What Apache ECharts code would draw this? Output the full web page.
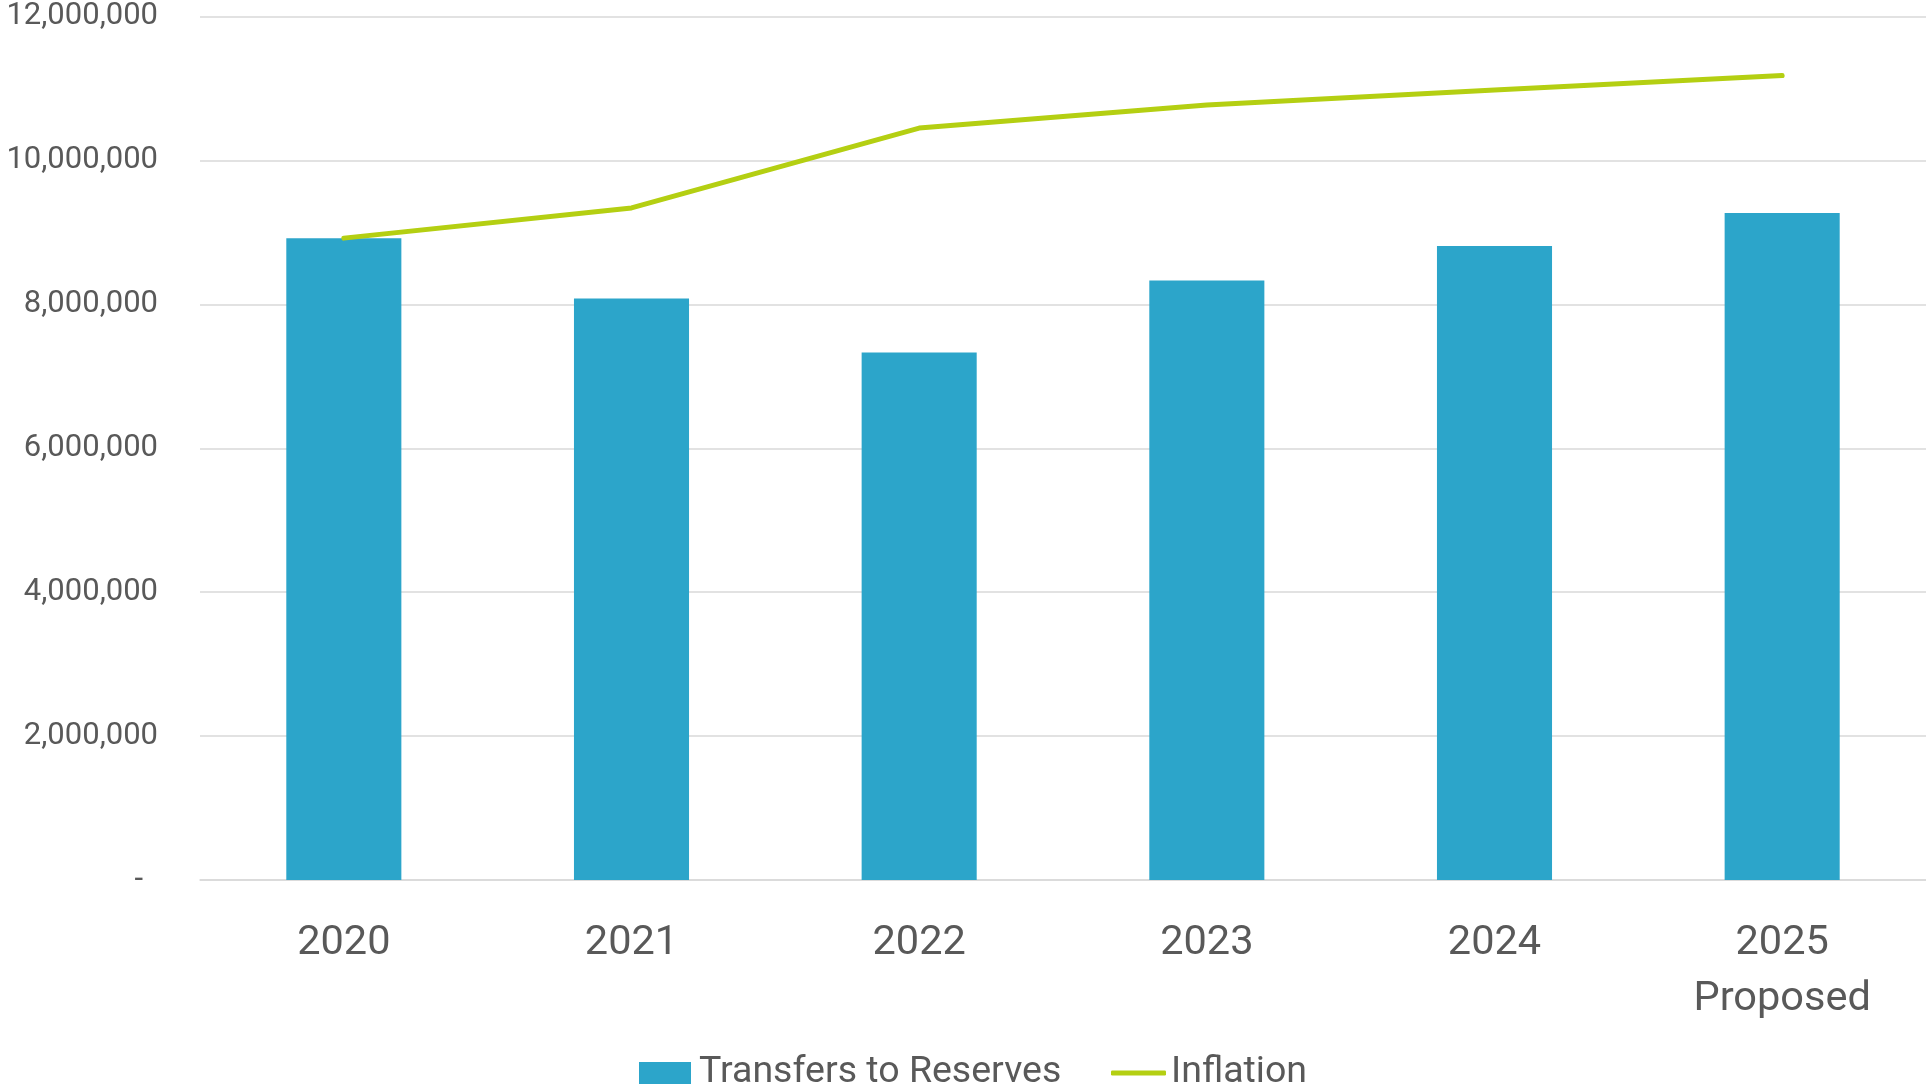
<!DOCTYPE html>
<html>
<head>
<meta charset="utf-8">
<script src="https://cdn.jsdelivr.net/npm/echarts@6/dist/echarts.min.js"></script>
<style>
html,body{margin:0;padding:0;background:#fff;}
#chart{width:1926px;height:1090px;}
</style>
</head>
<body>
<div id="chart"></div>
<script>
const categories = ['2020', '2021', '2022', '2023', '2024', '2025\nProposed'];
const transfersToReserves = [8920000, 8080000, 7330000, 8330000, 8810000, 9270000];
const inflation = [8920000, 9340000, 10450000, 10770000, 10980000, 11180000];
const yTicks = { min: 0, max: 12000000, interval: 2000000 };

const textColor = '#595959';
const font = 'Roboto';
const chart = echarts.init(document.getElementById('chart'));
chart.setOption({
  backgroundColor: '#ffffff',
  animation: false,
  grid: { left: 200, right: -4, top: 16.5, bottom: 210, containLabel: false },
  legend: [
    {
      data: ['Transfers to Reserves'],
      left: 634, top: 1049,
      itemWidth: 52, itemHeight: 22, icon: 'rect',
      itemGap: 0,
      textStyle: { color: textColor, fontFamily: font, fontSize: 37.5, lineHeight: 38, padding: [0, 0, 0, 3] }
    },
    {
      data: ['Inflation'],
      left: 1106, top: 1049,
      itemWidth: 55, itemHeight: 5, icon: 'roundRect',
      textStyle: { color: textColor, fontFamily: font, fontSize: 37.5, lineHeight: 38, padding: [0, 0, 0, 0] }
    }
  ],
  xAxis: {
    type: 'category',
    data: categories,
    axisLine: { show: true, lineStyle: { color: '#d9d9d9', width: 1.5 } },
    axisTick: { show: false },
    axisLabel: { color: textColor, fontFamily: font, fontSize: 41.5, lineHeight: 56, margin: 36, interval: 0 }
  },
  yAxis: {
    type: 'value',
    min: yTicks.min, max: yTicks.max, interval: yTicks.interval,
    axisLine: { show: false },
    axisTick: { show: false },
    splitLine: { lineStyle: { color: '#d9d9d9', width: 1.5 } },
    axisLabel: {
      color: textColor, fontFamily: font, fontSize: 31, margin: 42,
      formatter: function (v) {
        if (v === 0) return '{d|-}';
        return v.toLocaleString('en-US');
      },
      rich: { d: { color: textColor, fontFamily: font, fontSize: 31, padding: [0, 15, 0, 0] } }
    }
  },
  series: [
    {
      name: 'Transfers to Reserves',
      type: 'bar',
      data: transfersToReserves,
      barWidth: '40%',
      itemStyle: { color: '#2ca5ca' }
    },
    {
      name: 'Inflation',
      type: 'line',
      data: inflation,
      symbol: 'none',
      lineStyle: { color: '#b4cf12', width: 5, cap: 'round', join: 'round' },
      itemStyle: { color: '#b4cf12' }
    }
  ]
});
</script>
</body>
</html>
